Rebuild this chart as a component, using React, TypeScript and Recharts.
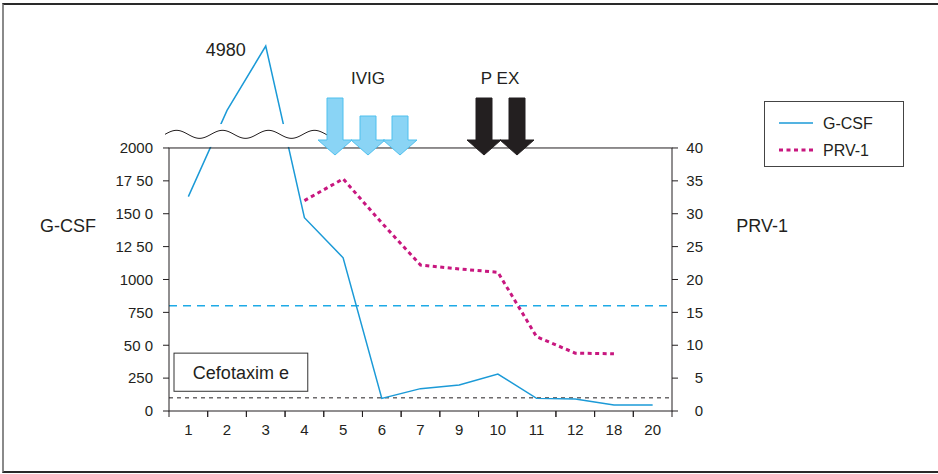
import {
  ComposedChart,
  Line,
  XAxis,
  YAxis,
  ReferenceLine,
  ReferenceArea,
  Legend,
} from 'recharts';

const DAYS = ['1', '2', '3', '4', '5', '6', '7', '9', '10', '11', '12', '18', '20'];
const GCSF = [1630, 3100, 4980, 1470, 1165, 96, 170, 198, 281, 96, 91, 46, 46];
const PRV1 = [null, null, null, 32, 35.3, 28.6, 22.2, 21.6, 21.1, 11.3, 8.8, 8.7, null];

const LEFT_TICKS = [0, 250, 500, 750, 1000, 1250, 1500, 1750, 2000];
const LEFT_TICK_LABELS: Record<number, string> = {
  0: '0',
  250: '250',
  500: '50 0',
  750: '750',
  1000: '1000',
  1250: '12 50',
  1500: '150 0',
  1750: '17 50',
  2000: '2000',
};
const RIGHT_TICKS = [0, 5, 10, 15, 20, 25, 30, 35, 40];

const GCSF_THRESHOLD = 800;
const BASELINE = 100;
const BREAK_AT = 2000;
// values above the axis break are squeezed into the strip above the frame
const BREAK_SQUEEZE = 0.26;
const LEFT_MAX = 2821;
const RIGHT_MAX = (40 * LEFT_MAX) / 2000;

const FONT = '"Liberation Sans", Arial, sans-serif';
const INK = '#231f20';
const BLUE = '#1b9ad7';
const MAGENTA = '#c8177f';

const toDisplay = (v: number) => (v <= BREAK_AT ? v : BREAK_AT + (v - BREAK_AT) * BREAK_SQUEEZE);

const rows = DAYS.map((day, i) => ({
  day,
  gcsf: toDisplay(GCSF[i]),
  gcsfRaw: GCSF[i],
  prv1: PRV1[i],
}));

const DayTick = (props: any) => {
  const { x, y, payload } = props;
  const half = payload?.offset || 19.35;
  return (
    <g>
      <line x1={x - half} x2={x - half} y1={y - 8} y2={y - 2} stroke={INK} />
      <line x1={x + half} x2={x + half} y1={y - 8} y2={y - 2} stroke={INK} />
      <text x={x} y={y + 16} textAnchor="middle" fontSize={15} fill={INK} fontFamily={FONT}>
        {payload.value}
      </text>
    </g>
  );
};

const RightTick = (props: any) => {
  const { x, y, payload } = props;
  return (
    <text x={x + 23} y={y} dy="0.35em" textAnchor="end" fontSize={15} fill={INK} fontFamily={FONT}>
      {payload.value}
    </text>
  );
};

const PeakLabel = (props: any) => {
  const { x, y, index } = props;
  if (rows[index]?.gcsfRaw !== Math.max(...GCSF)) return null;
  return (
    <text x={x - 40} y={y + 10} textAnchor="middle" fontSize={18} fill={INK} fontFamily={FONT}>
      {rows[index].gcsfRaw}
    </text>
  );
};

// white strip with the wavy break mark over the squeezed part of the axis
const AxisBreak = (props: any) => {
  const { x, y, width, height } = props;
  const waveY = y + height * 0.45;
  let d = '';
  for (let px = x - 4; px <= x + width + 4; px += 1) {
    const py = waveY + 4 * Math.sin(((px - (x - 4)) / 46) * 2 * Math.PI + Math.PI);
    d += (d ? ' L' : 'M') + px + ' ' + py.toFixed(2);
  }
  return (
    <g>
      <rect x={x - 4} y={y} width={width + 8} height={height} fill="#fff" />
      <path d={d} fill="none" stroke={INK} strokeWidth={1} />
    </g>
  );
};

const PlotFrame = (props: any) => {
  const { x, y, width, height } = props;
  return <rect x={x} y={y} width={width} height={height} fill="none" stroke={INK} strokeWidth={1} />;
};

// the antibiotic box sits inside the first days, a little narrower than the bands
const TherapyBox = (props: any) => {
  const { x, y, width, height } = props;
  const left = x + 5;
  const w = width - 21;
  return (
    <g>
      <rect x={left} y={y} width={w} height={height} fill="#fff" stroke="#333" strokeWidth={1} />
      <text x={left + w / 2} y={y + height / 2} dy="0.35em" textAnchor="middle" fontSize={18} fill={INK} fontFamily={FONT}>
        Cefotaxim e
      </text>
    </g>
  );
};

const LegendBox = () => (
  <div
    style={{
      width: 140,
      height: 66,
      border: '1px solid #444',
      boxSizing: 'border-box',
      background: '#fff',
      position: 'relative',
    }}
  >
    <svg width={138} height={64} style={{ position: 'absolute', left: 0, top: 0 }}>
      <line x1={14} x2={48} y1={21} y2={21} stroke={BLUE} strokeWidth={1.5} />
      <line x1={14} x2={48} y1={48} y2={48} stroke={MAGENTA} strokeWidth={3} strokeDasharray="4 3.5" />
      <text x={58} y={27} fontSize={16} fill={INK} fontFamily={FONT}>G-CSF</text>
      <text x={58} y={54} fontSize={16} fill={INK} fontFamily={FONT}>PRV-1</text>
    </svg>
  </div>
);

const Arrow = ({ cx, top, fill, stroke }: { cx: number; top: number; fill: string; stroke: string }) => {
  const tip = 155;
  const headTop = 140;
  const shaft = 8;
  const head = 17;
  const pts = [
    [cx - shaft, top],
    [cx + shaft, top],
    [cx + shaft, headTop],
    [cx + head, headTop],
    [cx, tip],
    [cx - head, headTop],
    [cx - shaft, headTop],
  ]
    .map((p) => p.join(','))
    .join(' ');
  return <polygon points={pts} fill={fill} stroke={stroke} strokeWidth={1} />;
};

export default function App() {
  return (
    <div style={{ position: 'absolute', left: 0, top: 0, width: 938, height: 474, background: '#fff' }}>
      <div
        style={{
          position: 'absolute',
          left: 2,
          top: 3,
          width: 960,
          height: 466,
          borderTop: '2px solid #2a2a2a',
          borderBottom: '2px solid #2a2a2a',
          borderLeft: '2px solid #8a8a8a',
        }}
      />
      <ComposedChart
        width={938}
        height={474}
        data={rows}
        margin={{ top: 40, right: 206, bottom: 33, left: 109 }}
        style={{ position: 'absolute', left: 0, top: 0, fontFamily: FONT }}
      >
        <XAxis
          dataKey="day"
          scale="band"
          height={30}
          axisLine={false}
          tickLine={false}
          tickSize={6}
          tickMargin={2}
          interval={0}
          tick={<DayTick />}
        />
        <YAxis
          yAxisId="left"
          width={60}
          domain={[0, LEFT_MAX]}
          ticks={LEFT_TICKS}
          interval={0}
          axisLine={false}
          tickLine={{ stroke: INK }}
          tickSize={6}
          tickMargin={10}
          tickFormatter={(v: number) => LEFT_TICK_LABELS[v] ?? String(v)}
          tick={{ fill: INK, fontSize: 15, fontFamily: FONT }}
          label={{ value: 'G-CSF', position: 'insideLeft', offset: -69, fill: INK, fontSize: 18, fontFamily: FONT }}
        />
        <YAxis
          yAxisId="right"
          orientation="right"
          width={60}
          domain={[0, RIGHT_MAX]}
          ticks={RIGHT_TICKS}
          interval={0}
          axisLine={false}
          tickLine={{ stroke: INK }}
          tickSize={6}
          tickMargin={2}
          tick={<RightTick />}
          label={{ value: 'PRV-1', position: 'insideRight', offset: -56, fill: INK, fontSize: 18, fontFamily: FONT }}
        />

        <ReferenceLine yAxisId="left" y={GCSF_THRESHOLD} stroke="#1eaae6" strokeDasharray="8 6" strokeWidth={1.4} />
        <ReferenceLine yAxisId="left" y={BASELINE} stroke={INK} strokeDasharray="4 4" strokeWidth={1} />
        <ReferenceArea yAxisId="left" x1="1" x2="4" y1={150} y2={440} shape={<TherapyBox />} />

        <Line
          yAxisId="left"
          dataKey="gcsf"
          name="G-CSF"
          stroke={BLUE}
          strokeWidth={1.5}
          dot={false}
          isAnimationActive={false}
          label={<PeakLabel />}
        />
        <Line
          yAxisId="right"
          dataKey="prv1"
          name="PRV-1"
          stroke={MAGENTA}
          strokeWidth={3}
          strokeDasharray="4 3.5"
          dot={false}
          isAnimationActive={false}
        />

        <ReferenceArea
          yAxisId="left"
          x1="1"
          x2="4"
          y1={2008}
          y2={2182}
          zIndex={600}
          ifOverflow="visible"
          shape={<AxisBreak />}
        />
        <ReferenceArea
          yAxisId="left"
          x1="1"
          x2="20"
          y1={0}
          y2={BREAK_AT}
          zIndex={650}
          ifOverflow="visible"
          shape={<PlotFrame />}
        />

        <Legend
          layout="vertical"
          verticalAlign="middle"
          align="center"
          content={<LegendBox />}
          wrapperStyle={{ position: 'absolute', left: 764, top: 101, width: 140, height: 66 }}
        />
      </ComposedChart>

      <svg
        width={938}
        height={474}
        style={{ position: 'absolute', left: 0, top: 0, pointerEvents: 'none' }}
        fontFamily={FONT}
      >
        <text x={368} y={84} textAnchor="middle" fontSize={17} fill={INK}>IVIG</text>
        <text x={500} y={84} textAnchor="middle" fontSize={17} fill={INK}>P EX</text>
        <Arrow cx={335} top={98} fill="#8ad4f5" stroke="#4fc0ee" />
        <Arrow cx={368} top={116} fill="#8ad4f5" stroke="#4fc0ee" />
        <Arrow cx={400} top={116} fill="#8ad4f5" stroke="#4fc0ee" />
        <Arrow cx={484} top={98} fill={INK} stroke={INK} />
        <Arrow cx={517} top={98} fill={INK} stroke={INK} />
      </svg>
    </div>
  );
}
